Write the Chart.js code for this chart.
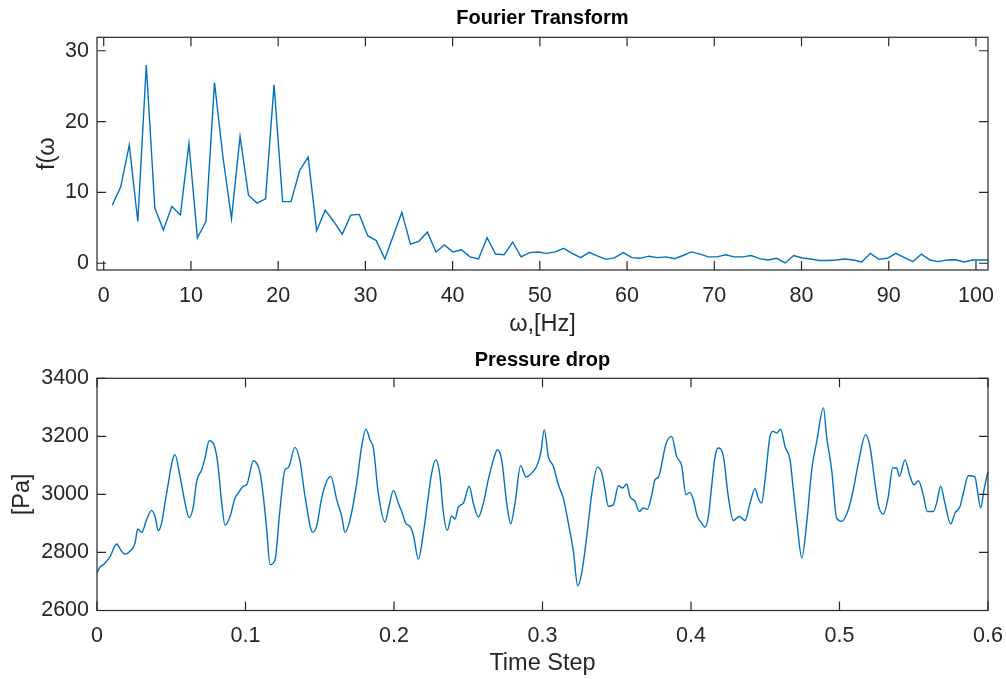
<!DOCTYPE html>
<html>
<head>
<meta charset="utf-8">
<script src="https://cdn.jsdelivr.net/npm/chart.js@4.4.0/dist/chart.umd.min.js"></script>
<style>
html, body { margin: 0; padding: 0; background: #ffffff; }
#wrap { position: relative; width: 1006px; height: 679px; overflow: hidden; }
#c1 { position: absolute; left: 0; top: 0; }
#c2 { position: absolute; left: 0; top: 340px; }
</style>
</head>
<body>
<div id="wrap">
  <canvas id="c1" width="1006" height="340"></canvas>
  <canvas id="c2" width="1006" height="339"></canvas>
</div>
<script>
// ---------- data ----------
const freqHz = [
  0.98,1.95,2.93,3.91,4.88,5.86,6.84,7.81,8.79,9.77,
  10.74,11.72,12.70,13.67,14.65,15.63,16.60,17.58,18.55,19.53,
  20.51,21.48,22.46,23.44,24.41,25.39,26.37,27.34,28.32,29.30,
  30.27,31.25,32.23,33.20,34.18,35.16,36.13,37.11,38.09,39.06,
  40.04,41.02,41.99,42.97,43.95,44.92,45.90,46.88,47.85,48.83,
  49.80,50.78,51.76,52.73,53.71,54.69,55.66,56.64,57.62,58.59,
  59.57,60.55,61.52,62.50,63.48,64.45,65.43,66.41,67.38,68.36,
  69.34,70.31,71.29,72.27,73.24,74.22,75.20,76.17,77.15,78.13,
  79.10,80.08,81.05,82.03,83.01,83.98,84.96,85.94,86.91,87.89,
  88.87,89.84,90.82,91.80,92.77,93.75,94.73,95.70,96.68,97.66,
  98.63,99.61,100.59,101.56
];
const fourierAmp = [
  8.2,10.8,16.7,5.9,28.0,7.8,4.7,8.0,6.8,16.9,
  3.6,5.9,25.5,15.0,6.3,17.9,9.6,8.5,9.1,25.2,
  8.7,8.7,13.1,15.0,4.6,7.5,5.9,4.1,6.8,6.9,
  3.9,3.2,0.6,3.9,7.2,2.7,3.1,4.4,1.6,2.6,
  1.6,1.9,0.9,0.6,3.6,1.3,1.2,3.0,0.9,1.5,
  1.6,1.4,1.6,2.1,1.4,0.8,1.55,1.0,0.55,0.8,
  1.5,0.8,0.7,1.0,0.8,0.9,0.65,1.1,1.6,1.3,
  0.9,0.9,1.2,0.9,0.9,1.1,0.65,0.46,0.7,0.04,
  1.1,0.75,0.6,0.4,0.4,0.46,0.6,0.46,0.18,1.4,
  0.55,0.7,1.4,0.8,0.23,1.3,0.46,0.23,0.46,0.5,
  0.18,0.46,0.46,0.46
];
const timeStep = [
  0.0000,0.0020,0.0043,0.0088,0.0132,0.0166,0.0189,0.0222,0.0256,0.0274,
  0.0301,0.0334,0.0368,0.0391,0.0413,0.0435,0.0469,0.0525,0.0559,0.0593,
  0.0620,0.0649,0.0671,0.0705,0.0727,0.0756,0.0788,0.0813,0.0840,0.0862,
  0.0896,0.0929,0.0952,0.0985,0.1008,0.1053,0.1098,0.1120,0.1143,0.1165,
  0.1199,0.1232,0.1266,0.1288,0.1333,0.1367,0.1401,0.1452,0.1479,0.1513,
  0.1547,0.1574,0.1614,0.1648,0.1670,0.1704,0.1749,0.1782,0.1811,0.1838,
  0.1861,0.1894,0.1939,0.1966,0.1996,0.2029,0.2052,0.2081,0.2108,0.2130,
  0.2164,0.2198,0.2231,0.2254,0.2281,0.2310,0.2330,0.2359,0.2388,0.2411,
  0.2433,0.2467,0.2507,0.2534,0.2568,0.2602,0.2635,0.2669,0.2696,0.2725,
  0.2759,0.2786,0.2815,0.2853,0.2889,0.2916,0.2961,0.2988,0.3012,0.3039,
  0.3073,0.3107,0.3140,0.3174,0.3208,0.3237,0.3264,0.3298,0.3331,0.3369,
  0.3399,0.3421,0.3443,0.3477,0.3511,0.3540,0.3567,0.3589,0.3623,0.3652,
  0.3679,0.3706,0.3736,0.3758,0.3781,0.3832,0.3870,0.3903,0.3937,0.3966,
  0.3993,0.4016,0.4043,0.4072,0.4094,0.4117,0.4139,0.4162,0.4184,0.4218,
  0.4251,0.4285,0.4326,0.4364,0.4398,0.4431,0.4453,0.4476,0.4499,0.4532,
  0.4554,0.4577,0.4604,0.4633,0.4667,0.4689,0.4716,0.4746,0.4779,0.4813,
  0.4847,0.4892,0.4913,0.4947,0.4981,0.5017,0.5059,0.5093,0.5127,0.5176,
  0.5205,0.5239,0.5261,0.5295,0.5329,0.5358,0.5385,0.5403,0.5441,0.5475,
  0.5502,0.5531,0.5564,0.5591,0.5632,0.5654,0.5681,0.5710,0.5749,0.5778,
  0.5812,0.5834,0.5868,0.5912,0.5928,0.5951,0.5973,0.6000
];
const pressurePa = [
  2729,2750,2758,2786,2829,2804,2794,2804,2832,2881,
  2869,2913,2945,2924,2875,2901,3005,3137,3062,2970,
  2920,2959,3045,3085,3125,3185,3171,3108,2970,2894,
  2924,2987,3005,3028,3033,3116,3074,2993,2878,2758,
  2775,2947,3085,3092,3162,3114,2993,2870,2890,2987,
  3045,3062,2982,2924,2869,2913,3039,3165,3225,3188,
  3160,3005,2905,2959,3014,2970,2941,2899,2890,2861,
  2777,2867,2993,3074,3119,3062,2947,2876,2926,2915,
  2956,2970,3028,2970,2922,2970,3051,3119,3154,3119,
  2970,2899,2970,3099,3060,3068,3097,3142,3223,3131,
  3097,3033,2987,2901,2804,2685,2729,2855,2999,3094,
  3074,3016,2959,2964,3030,3022,3036,2993,2976,2941,
  2953,2949,2999,3051,3060,3175,3200,3131,3099,2999,
  3007,2982,2924,2901,2887,2924,3028,3131,3160,3131,
  2993,2910,2924,2910,2970,3020,2987,2970,3051,3200,
  3217,3211,3225,3165,3119,3016,2890,2781,2901,3085,
  3183,3298,3200,3085,2918,2907,2947,3016,3108,3206,
  3165,3039,2964,2932,2993,3091,3091,3062,3119,3062,
  3033,3047,2999,2941,2941,2970,3028,2970,2898,2936,
  2959,3005,3064,3060,3016,2953,3016,3079
];
const fourierXTicks  = [0,10,20,30,40,50,60,70,80,90,100];
const fourierXLabels = ['0','10','20','30','40','50','60','70','80','90','100'];
const fourierYTicks  = [0,10,20,30];
const fourierYLabels = ['0','10','20','30'];
const pressureXTicks  = [0,0.1,0.2,0.3,0.4,0.5,0.6];
const pressureXLabels = ['0','0.1','0.2','0.3','0.4','0.5','0.6'];
const pressureYTicks  = [2600,2800,3000,3200,3400];
const pressureYLabels = ['2600','2800','3000','3200','3400'];

// ---------- styling ----------
const FONT = "'Liberation Sans', Arial, Helvetica, sans-serif";
const AXIS_COLOR = '#262626';
const LINE_COLOR = '#0072BD';

const matlabBox = {
  id: 'matlabBox',
  afterDraw(chart) {
    const { ctx, chartArea: a, scales: { x, y } } = chart;
    const tl = 9;
    ctx.save();
    ctx.strokeStyle = AXIS_COLOR;
    ctx.lineWidth = 1.2;
    ctx.beginPath();
    x.ticks.forEach(t => {
      const px = x.getPixelForValue(t.value);
      ctx.moveTo(px, a.bottom); ctx.lineTo(px, a.bottom - tl);
      ctx.moveTo(px, a.top); ctx.lineTo(px, a.top + tl);
    });
    y.ticks.forEach(t => {
      const py = y.getPixelForValue(t.value);
      ctx.moveTo(a.left, py); ctx.lineTo(a.left + tl, py);
      ctx.moveTo(a.right, py); ctx.lineTo(a.right - tl, py);
    });
    ctx.stroke();
    ctx.strokeRect(a.left, a.top, a.right - a.left, a.bottom - a.top);
    ctx.restore();
  }
};

function makeChart(id, cfg) {
  const pts = [];
  const n = Math.min(cfg.xs.length, cfg.ys.length);
  for (let i = 0; i < n; i++) pts.push({ x: cfg.xs[i], y: cfg.ys[i] });
  return new Chart(document.getElementById(id), {
    type: 'line',
    data: {
      datasets: [{
        data: pts,
        borderColor: LINE_COLOR,
        borderWidth: 1.4,
        pointRadius: 0,
        fill: false,
        tension: cfg.smooth ? 0.4 : 0,
        cubicInterpolationMode: cfg.smooth ? 'monotone' : 'default'
      }]
    },
    options: {
      responsive: false,
      animation: false,
      devicePixelRatio: 1,
      layout: { padding: { top: 0, left: 0, right: 18, bottom: 0 } },
      plugins: {
        legend: { display: false },
        tooltip: { enabled: false },
        title: {
          display: true,
          fullSize: false,
          text: cfg.title,
          color: '#000000',
          font: { family: FONT, size: 20, weight: 'bold' },
          padding: { top: cfg.titlePadTop, bottom: cfg.titlePadBottom }
        }
      },
      scales: {
        x: {
          type: 'linear',
          min: cfg.xMin, max: cfg.xMax,
          grid: { display: false, drawTicks: true, tickLength: 11 },
          border: { display: false },
          afterBuildTicks: s => { s.ticks = cfg.xTicks.map(v => ({ value: v })); },
          afterFit: s => { s.height = cfg.xAxisHeight; },
          ticks: {
            autoSkip: false, maxRotation: 0, minRotation: 0, padding: 2,
            color: AXIS_COLOR, font: { family: FONT, size: 21.5 },
            callback: (v, i) => cfg.xLabels[i]
          },
          title: {
            display: true, text: cfg.xTitle, color: AXIS_COLOR,
            font: { family: FONT, size: 23.5 }, padding: { top: 0, bottom: 1 }
          }
        },
        y: {
          type: 'linear',
          min: cfg.yMin, max: cfg.yMax,
          grid: { display: false, drawTicks: false },
          border: { display: false },
          afterBuildTicks: s => { s.ticks = cfg.yTicks.map(v => ({ value: v })); },
          afterFit: s => { s.width = 97; },
          ticks: {
            autoSkip: false, padding: 8,
            color: AXIS_COLOR, font: { family: FONT, size: 21.5 },
            callback: (v, i) => cfg.yLabels[i]
          },
          title: {
            display: true, text: cfg.yTitle, color: AXIS_COLOR,
            font: { family: FONT, size: 23.5 }, padding: { top: cfg.yTitlePad, bottom: 0 }
          }
        }
      }
    },
    plugins: [matlabBox]
  });
}

makeChart('c1', {
  xs: freqHz, ys: fourierAmp, smooth: false,
  title: 'Fourier Transform', titlePadTop: 6.5, titlePadBottom: 6.8,
  xMin: -0.77, xMax: 101.38, yMin: -0.95, yMax: 31.9,
  xTicks: fourierXTicks, xLabels: fourierXLabels,
  yTicks: fourierYTicks, yLabels: fourierYLabels,
  xTitle: 'ω,[Hz]', yTitle: 'f(ω', yTitlePad: 33,
  xAxisHeight: 70
});

makeChart('c2', {
  xs: timeStep, ys: pressurePa, smooth: true,
  title: 'Pressure drop', titlePadTop: 8.5, titlePadBottom: 5.8,
  xMin: 0, xMax: 0.6, yMin: 2600, yMax: 3400,
  xTicks: pressureXTicks, xLabels: pressureXLabels,
  yTicks: pressureYTicks, yLabels: pressureYLabels,
  xTitle: 'Time Step', yTitle: '[Pa]', yTitlePad: 8,
  xAxisHeight: 68.5
});
</script>
</body>
</html>
